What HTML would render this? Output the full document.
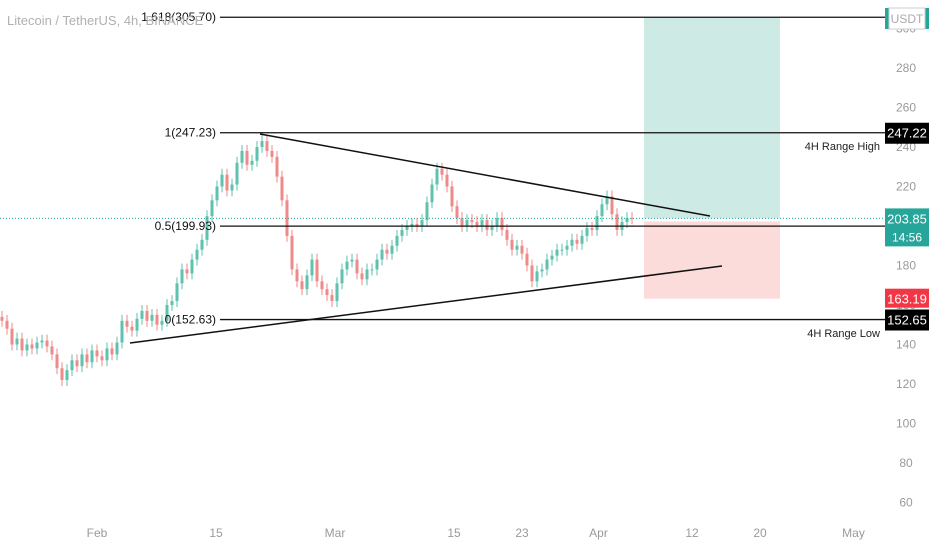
<!DOCTYPE html>
<html><head><meta charset="utf-8"><style>
body{margin:0;background:#fff;}
svg{display:block;font-family:"Liberation Sans",sans-serif;}
</style></head><body>
<svg id="chart" width="932" height="550" viewBox="0 0 932 550">
<g id="zones"></g><g id="candles"></g><g id="overlay"></g><g id="axes"></g>
</svg>
<script>
const closes=[152,148,140,143,137,140,138,141,142,139,135,128,122,127,132,129,135,131,137,134,132,138,135,141,152,149,147,153,157,152,155,150,152,160,162,171,178,176,183,188,193,205,213,220,226,218,221,232,238,231,233,240,243,238,235,225,213,195,178,172,168,175,183,172,168,165,162,171,178,182,183,176,173,178,178,183,188,186,190,195,198,200,201,200,203,212,221,229,226,220,210,204,200,203,202,200,203,198,200,204,198,193,188,190,186,180,172,177,178,183,185,188,188,190,193,191,195,199,198,205,211,215,206,198,202,204,203.85];
const priceTicks=[300,280,260,240,220,200,180,160,140,120,100,80,60];
const timeLabels=["Feb","15","Mar","15","23","Apr","12","20","May"];
const timeDays=[0,14,28,42,50,59,70,78,89];
const fibLevels=[305.70,247.23,199.93,152.63];
const fibLabels=["1.618(305.70)","1(247.23)","0.5(199.93)","0(152.63)"];
const lastPrice=203.85;
const ns="http://www.w3.org/2000/svg";
function y(p){return 68+(280-p)*1.975;}
function xc(i){return 2+i*5;}
function xd(d){return 97+d*8.5;}
function mk(tag,attrs,parent,text){const e=document.createElementNS(ns,tag);for(const k in attrs)e.setAttribute(k,attrs[k]);if(text!==undefined)e.textContent=text;parent.appendChild(e);return e;}
const zones=document.getElementById('zones'),cg=document.getElementById('candles'),ov=document.getElementById('overlay'),ax=document.getElementById('axes');
let z=mk('rect',{x:644,y:y(305.7),width:136,height:y(lastPrice)-y(305.7),fill:'#cdeae5'},zones);

z=mk('rect',{x:644,y:y(lastPrice)+3,width:136,height:y(163.19)-y(lastPrice)-3,fill:'#fcdcdb'},zones);

for(let i=0;i<closes.length;i++){
 const o=i?closes[i-1]:closes[0]+2,c=closes[i],up=c>=o;
 const col=up?'#5fc2ae':'#ee8a88';
 const g=mk('g',{},cg);
 
 
 mk('line',{x1:xc(i),x2:xc(i),y1:y(Math.max(o,c)+3),y2:y(Math.min(o,c)-3),stroke:col,'stroke-width':1},g);
 mk('rect',{x:xc(i)-1.5,y:y(Math.max(o,c)),width:3,height:Math.max(1,Math.abs(y(o)-y(c))),fill:col},g);
}
let l=mk('line',{x1:0,x2:885,y1:y(lastPrice),y2:y(lastPrice),stroke:'#26a69a','stroke-width':1,'stroke-dasharray':'1,2'},ov);

for(let k=0;k<fibLevels.length;k++){
 const fl=mk('line',{x1:220,x2:885,y1:y(fibLevels[k]),y2:y(fibLevels[k]),stroke:'#111','stroke-width':1.3},ov);
 
 const t=mk('text',{x:216,y:y(fibLevels[k])+4,'text-anchor':'end','font-size':12,fill:'#111'},ov,fibLabels[k]);
 
}
l=mk('line',{x1:260,y1:134,x2:710,y2:216,stroke:'#111','stroke-width':1.5},ov);

l=mk('line',{x1:130,y1:343,x2:722,y2:266,stroke:'#111','stroke-width':1.5},ov);

let t=mk('text',{x:880,y:150,'text-anchor':'end','font-size':11,fill:'#222'},ov,'4H Range High');

t=mk('text',{x:880,y:337,'text-anchor':'end','font-size':11,fill:'#222'},ov,'4H Range Low');

t=mk('text',{x:7,y:25,'font-size':13,fill:'#b0b0b0'},ov,'Litecoin / TetherUS, 4h, BINANCE');

for(const p of priceTicks){const tt=mk('text',{x:906,y:y(p)+4,'text-anchor':'middle','font-size':12,fill:'#9a9a9a'},ax,String(p));
 }
for(let k=0;k<timeLabels.length;k++){const tt=mk('text',{x:xd(timeDays[k]),y:537,'text-anchor':'middle','font-size':12,fill:'#9a9a9a'},ax,timeLabels[k]);
 }
function tag(p,h,bg,txt,name,extra){const gg=mk('g',{},ax);
 mk('rect',{x:885,y:y(p)-10,width:44,height:h,fill:bg},gg);
 mk('text',{x:907,y:y(p)+5,'text-anchor':'middle','font-size':13,fill:'#fff'},gg,txt);
 if(extra)mk('text',{x:907,y:y(p)+23,'text-anchor':'middle','font-size':12,fill:'#fff'},gg,extra);}
tag(247.22,21,'#000','247.22','range-high-tag');
tag(202.04,17,'#787b86','202.04','entry-price-tag');
tag(lastPrice,38,'#26a69a','203.85','last-price-tag','14:56');
tag(163.19,19,'#f23645','163.19','stop-price-tag');
tag(152.65,21,'#000','152.65','range-low-tag');
const ug=mk('g',{},ax);
mk('rect',{x:885,y:8,width:44,height:21,fill:'#26a69a'},ug);
mk('rect',{x:889,y:8,width:36,height:21,fill:'#fff',stroke:'#ccc'},ug);
mk('text',{x:907,y:23,'text-anchor':'middle','font-size':12,fill:'#aaa'},ug,'USDT');
</script>
</body></html>
